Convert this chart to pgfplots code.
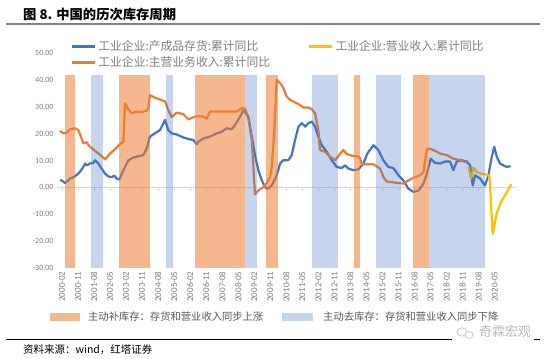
\documentclass[border=0pt]{standalone}
\usepackage{pgfplots}
\pgfplotsset{compat=1.18}
\usepackage{fontspec}
\setmainfont{Carlito}
\newfontfamily\cjk{Noto Sans CJK SC}
\definecolor{cblue}{HTML}{4472C4}
\definecolor{corange}{HTML}{ED7D31}
\definecolor{cyellow}{HTML}{FFC000}
\definecolor{labelgray}{HTML}{7F7F7F}
\definecolor{zerogray}{HTML}{D9D9D9}
\definecolor{textdark}{HTML}{595959}
\begin{document}
\begin{tikzpicture}
\useasboundingbox (0,0) rectangle (550bp,-359bp);
\fill[white] (0,0) rectangle (550bp,-359bp);
\node[anchor=base west, inner sep=0pt, font=\cjk\bfseries\fontsize{13.3bp}{16bp}\selectfont] at (23bp,-19bp) {图 8. 中国的历次库存周期};
\draw[gray, line width=1.5bp] (6bp,-24bp) -- (540bp,-24bp);
\begin{axis}[
  at={(57bp,-268bp)}, anchor=south west,
  width=459bp, height=215bp, scale only axis,
  xmin=-2.8, xmax=255, ymin=-30, ymax=50,
  axis line style={draw=none},
  major tick length=0pt,
  ytick={-30,-20,...,50},
  xtick={0,9,...,243},
  xticklabels={2000-02,2000-11,2001-08,2002-05,2003-02,2003-11,2004-08,2005-05,2006-02,2006-11,2007-08,2008-05,2009-02,2009-11,2010-08,2011-05,2012-02,2012-11,2013-08,2014-05,2015-02,2015-11,2016-08,2017-05,2018-02,2018-11,2019-08,2020-05},
  /pgf/number format/assume math mode=true,
  y tick label style={/pgf/number format/.cd, fixed, fixed zerofill, precision=2, /tikz/.cd, font=\fontsize{8bp}{9bp}\selectfont, text=labelgray},
  xticklabel style={rotate=90, anchor=east, font=\fontsize{9bp}{9bp}\selectfont, text=labelgray},
  legend columns=2,
  legend cell align=left,
  legend image code/.code={\draw[#1] (0bp,0bp) -- (23bp,0bp);},
  legend style={draw=none, fill=none, at={(0.03,1.068)}, anchor=north west, inner sep=0pt,
    font=\cjk\fontsize{11.8bp}{13bp}\selectfont, text=labelgray, row sep=0.5bp,
    /tikz/every even column/.append style={column sep=36bp}},
]
\draw[zerogray, line width=0.8bp] (axis cs:-2.8,0) -- (axis cs:255,0);
\pgfplotsinvokeforeach{0,9,...,243}{\draw[zerogray, line width=0.8bp] (axis cs:#1,0) -- ++(0bp,-4bp);}

\addlegendimage{cblue, line width=2.4bp}
\addlegendentry{工业企业:产成品存货:累计同比}
\addlegendimage{cyellow, line width=2.4bp}
\addlegendentry{工业企业:营业收入:累计同比}
\addlegendimage{corange, line width=2.4bp}
\addlegendentry{工业企业:主营业务收入:累计同比}

% 产成品存货
\addplot[cblue, line width=2.2bp, line join=round, forget plot] coordinates {
(-1.1,2.8) (0,2.5) (1.7,1.6) (3,2.3) (4.6,3.3) (7.3,4.1) (10,5.7) (12,7.6) (13,8.9) (14,8.2)
(15.7,8.9) (17.6,9.1) (18.5,10.1) (20.4,8.9) (22.3,7.0) (24.2,5.1) (26,4.1) (27.9,3.8) (29.4,4.4)
(30.7,3.3) (32.2,2.9) (34.5,6.4) (37.3,10.1) (40,11.1) (42.9,11.6) (45.7,12) (47.6,14.5) (49.4,18.9)
(52.2,20.1) (55,21.3) (57.9,25.1) (59.7,21.3) (61.6,20.1) (64.4,19.7) (68.1,18.6) (71,18.0) (73.8,17.6)
(75.7,16.0) (76.6,17) (79.4,18.2) (83.1,18.9) (86.9,20.1) (89.7,20.7) (92.5,22) (95.3,21.6) (97.2,23.2)
(100,26.3) (101.9,28.8) (104.7,26.3) (106.6,18.9) (108.4,12) (110.3,6.4) (112.2,2.6) (114,0.1)
(115.5,-0.6) (117.8,0.7) (120.6,4.5) (122.5,8.9) (124.3,10.1) (127.1,10.1) (129,12) (130.9,17.6)
(132.8,22.6) (134.7,23.9) (136.6,22.6) (138.4,23.9) (140.3,24.5) (142.1,22.6) (144,18.9) (145.9,15.7)
(148.7,13.2) (151.5,10.1) (154.3,7.6) (157.1,7.2) (159,8.2) (160.8,7) (163.7,6.4) (166.5,6.7)
(169.3,8.9) (171.5,12.6) (174.9,15.7) (177.7,13.9) (180.5,10.1) (183.3,7.6) (186.1,7.2) (189,4.5)
(191.7,2.6) (194.6,-0.5) (197.4,-1.7) (200.2,-1.2) (203,1.4) (204.9,5.1) (207.1,10.7) (209.6,9.1)
(212.4,8.9) (215.2,9.6) (218,9.6) (219.8,6.4) (221.7,9.6) (224.5,10.1) (227.4,9.6) (229.2,8.2)
(230.7,0.7) (232,4.5) (234.8,3.3) (237.6,0.7) (239.5,4.5) (241.4,11.4) (242.8,15.1) (244.2,11.4)
(246,8.9) (247.9,8.2) (249.8,7.6) (252,7.9)
};
% 主营业务收入
\addplot[corange, line width=2.2bp, line join=round, forget plot] coordinates {
(-1.1,21) (0.7,20.1) (2.5,20.3) (4.5,21.6) (7.3,22) (9.2,21.3) (11,18.2) (12,16.4) (13.8,16.8)
(15.7,15.1) (17.6,14.1) (20.4,12.6) (23.2,11.1) (24.2,10.4) (27,12.6) (29.8,14.2) (32.6,16.1)
(34.5,17) (35.4,31.3) (36.8,29.5) (39.1,27.6) (42,28.2) (44.8,28) (47.6,28.6) (48.5,29.5) (49.4,34.3)
(52.2,33.4) (55,32.7) (57.9,32) (59.7,28.8) (61.6,26.1) (64.4,27.8) (68.1,27.3) (71,25.3) (73.8,26.1)
(76.6,26.6) (79.4,26.3) (81.3,25.6) (83.1,28.2) (90,28.2) (98.1,28.2) (101,29.5) (102.8,29.2)
(104.7,25.7) (106.6,17.6) (108.4,-2.6) (110.3,-1.1) (113.1,0.1) (115,1.6) (116.9,3.9) (117.8,7.6)
(119.2,20) (120.6,40.1) (122.5,38.8) (124.3,37) (126.2,33.8) (128.1,32.6) (130.9,31.6) (133.7,30.7)
(135.6,29.7) (138.4,29.7) (140.3,29.1) (142.1,27.6) (144,21.3) (144.9,13.9) (147.8,13.2) (150.6,11.4)
(153.4,10.1) (156.2,12.5) (158,13.9) (160,12.4) (162.8,11.8) (165.6,11.6) (167.4,11) (168.3,8.6)
(174.9,8.6) (178.7,7) (180.5,3.9) (182.4,2.2) (188,1.7) (191.7,1.4) (194.6,2.6) (197.4,3.6)
(201.1,4.5) (203,5.7) (204.9,13.9) (205.8,14.5) (208.6,13.9) (212.4,12.6) (216.1,12) (219.8,10.7)
(223.6,10.1) (227.4,9.3)
};
% 营业收入
\addplot[cyellow, line width=2.2bp, line join=round, forget plot] coordinates {
(228.3,7.6) (229.8,3.3) (231.1,7.4) (233,5.7) (235.8,5.1) (238.6,4.7) (240.1,4.3) (241.9,-17.3)
(244.2,-9.5) (246.5,-5.5) (249.5,-2.2) (252.3,1.2)
};

% 主动补库存 (orange) and 主动去库存 (blue) periods
\addplot[draw=none, fill=corange, fill opacity=0.55, forget plot] coordinates {(1.9,-30) (1.9,42) (7.5,42) (7.5,-30)} -- cycle;
\addplot[draw=none, fill=corange, fill opacity=0.55, forget plot] coordinates {(32.2,-30) (32.2,42) (49.4,42) (49.4,-30)} -- cycle;
\addplot[draw=none, fill=corange, fill opacity=0.55, forget plot] coordinates {(74.7,-30) (74.7,42) (102.8,42) (102.8,-30)} -- cycle;
\addplot[draw=none, fill=corange, fill opacity=0.55, forget plot] coordinates {(114.6,-30) (114.6,42) (121.2,42) (121.2,-30)} -- cycle;
\addplot[draw=none, fill=corange, fill opacity=0.55, forget plot] coordinates {(164,-30) (164,42) (167.4,42) (167.4,-30)} -- cycle;
\addplot[draw=none, fill=corange, fill opacity=0.55, forget plot] coordinates {(197.4,-30) (197.4,42) (206.4,42) (206.4,-30)} -- cycle;
\addplot[draw=none, fill=cblue, fill opacity=0.3, forget plot] coordinates {(16.1,-30) (16.1,42) (23.2,42) (23.2,-30)} -- cycle;
\addplot[draw=none, fill=cblue, fill opacity=0.3, forget plot] coordinates {(58.4,-30) (58.4,42) (62.2,42) (62.2,-30)} -- cycle;
\addplot[draw=none, fill=cblue, fill opacity=0.3, forget plot] coordinates {(102.8,-30) (102.8,42) (109.4,42) (109.4,-30)} -- cycle;
\addplot[draw=none, fill=cblue, fill opacity=0.3, forget plot] coordinates {(140.3,-30) (140.3,42) (155.2,42) (155.2,-30)} -- cycle;
\addplot[draw=none, fill=cblue, fill opacity=0.3, forget plot] coordinates {(176.2,-30) (176.2,42) (190.6,42) (190.6,-30)} -- cycle;
\addplot[draw=none, fill=cblue, fill opacity=0.3, forget plot] coordinates {(206.4,-30) (206.4,42) (237.6,42) (237.6,-30)} -- cycle;
\end{axis}

% bottom legend
\fill[corange, fill opacity=0.55] (50bp,-313bp) rectangle (80bp,-321bp);
\node[anchor=west, inner sep=0pt, text=textdark, font=\cjk\fontsize{10.3bp}{12bp}\selectfont] at (88bp,-317bp) {主动补库存：存货和营业收入同步上涨};
\fill[cblue, fill opacity=0.3] (282bp,-313bp) rectangle (313bp,-321bp);
\node[anchor=west, inner sep=0pt, text=textdark, font=\cjk\fontsize{10.3bp}{12bp}\selectfont] at (323bp,-317bp) {主动去库存：存货和营业收入同步下降};

% footer
\draw[black, line width=0.8bp] (6bp,-339bp) -- (540bp,-339bp);
\fill[white] (452bp,-325bp) rectangle (534bp,-342bp);
\draw[gray!45, line width=0.7bp] (462bp,-332bp) ellipse (5bp and 4.2bp);
\draw[gray!45, line width=0.7bp, fill=white] (469bp,-335bp) ellipse (4bp and 3.4bp);
\node[anchor=west, inner sep=0pt, text=gray!55, font=\cjk\fontsize{13bp}{14bp}\selectfont] at (479bp,-332bp) {奇霖宏观};
\node[anchor=west, inner sep=0pt, font=\cjk\fontsize{10.5bp}{12bp}\selectfont] at (23bp,-350bp) {资料来源：wind，红塔证券};
\end{tikzpicture}
\end{document}
